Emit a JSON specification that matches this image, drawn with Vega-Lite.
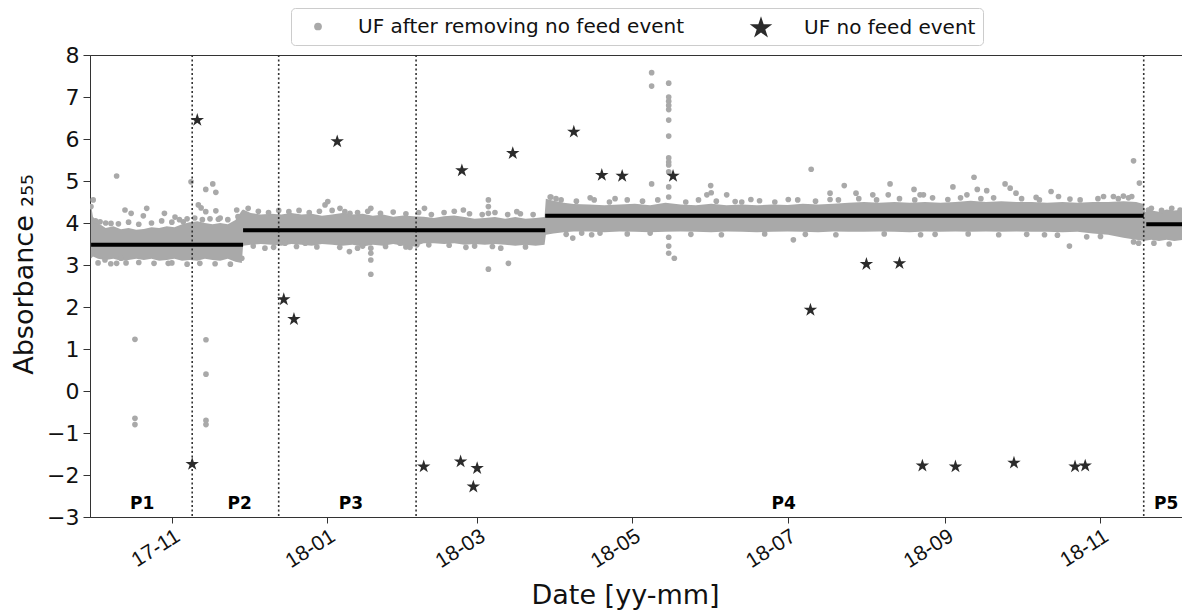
{
  "$schema": "https://vega.github.io/schema/vega-lite/v6.json",
  "width": 1092,
  "height": 462,
  "autosize": "none",
  "padding": {"left": 90, "top": 55, "right": 0, "bottom": 98},
  "background": "white",
  "config": {
    "font": "DejaVu Sans",
    "view": {"stroke": "#333333", "strokeWidth": 1},
    "axis": {"domainColor": "#333333", "tickColor": "#333333", "labelColor": "#111111", "titleColor": "#111111", "labelFontSize": 22, "titleFontSize": 27, "titleFontWeight": "normal", "grid": false, "tickSize": 6},
    "legend": {"orient": "none", "legendX": 201, "legendY": -47, "direction": "horizontal", "strokeColor": "#cccccc", "fillColor": "white", "cornerRadius": 4, "padding": 7, "labelFontSize": 20, "labelColor": "#111111", "labelLimit": 0, "columnPadding": 53, "labelOffset": 30, "symbolOffset": 10, "title": null}
  },
  "datasets": {
    "band": [
      {"d": "2017-09-30T04:00", "v": 3.15, "v2": 4.45},
      {"d": "2017-10-01T00:00", "v": 3.2, "v2": 4.15},
      {"d": "2017-10-03T00:00", "v": 3.15, "v2": 4.0},
      {"d": "2017-10-06T00:00", "v": 3.12, "v2": 3.88},
      {"d": "2017-10-09T00:00", "v": 3.15, "v2": 3.92},
      {"d": "2017-10-12T00:00", "v": 3.1, "v2": 3.85},
      {"d": "2017-10-15T00:00", "v": 3.12, "v2": 3.88},
      {"d": "2017-10-18T00:00", "v": 3.15, "v2": 3.84},
      {"d": "2017-10-21T00:00", "v": 3.12, "v2": 3.86},
      {"d": "2017-10-24T00:00", "v": 3.15, "v2": 3.9},
      {"d": "2017-10-27T00:00", "v": 3.1, "v2": 3.88},
      {"d": "2017-10-30T00:00", "v": 3.12, "v2": 3.92},
      {"d": "2017-11-02T00:00", "v": 3.15, "v2": 3.9},
      {"d": "2017-11-05T00:00", "v": 3.1, "v2": 3.97},
      {"d": "2017-11-08T00:00", "v": 3.12, "v2": 4.02},
      {"d": "2017-11-11T00:00", "v": 3.1, "v2": 4.04},
      {"d": "2017-11-14T00:00", "v": 3.15, "v2": 4.0},
      {"d": "2017-11-17T00:00", "v": 3.12, "v2": 3.97},
      {"d": "2017-11-20T00:00", "v": 3.1, "v2": 4.0},
      {"d": "2017-11-23T00:00", "v": 3.15, "v2": 3.97},
      {"d": "2017-11-26T00:00", "v": 3.08, "v2": 4.07},
      {"d": "2017-11-28T12:00", "v": 3.05, "v2": 4.3},
      {"d": "2017-11-29T00:00", "v": 3.46, "v2": 4.32},
      {"d": "2017-12-02T00:00", "v": 3.48, "v2": 4.24},
      {"d": "2017-12-06T00:00", "v": 3.5, "v2": 4.2},
      {"d": "2017-12-10T00:00", "v": 3.48, "v2": 4.22},
      {"d": "2017-12-14T00:00", "v": 3.46, "v2": 4.2},
      {"d": "2017-12-18T00:00", "v": 3.5, "v2": 4.24},
      {"d": "2017-12-22T00:00", "v": 3.48, "v2": 4.2},
      {"d": "2017-12-26T00:00", "v": 3.46, "v2": 4.22},
      {"d": "2017-12-30T00:00", "v": 3.5, "v2": 4.17},
      {"d": "2018-01-03T00:00", "v": 3.48, "v2": 4.2},
      {"d": "2018-01-07T00:00", "v": 3.46, "v2": 4.24},
      {"d": "2018-01-11T00:00", "v": 3.48, "v2": 4.2},
      {"d": "2018-01-15T00:00", "v": 3.44, "v2": 4.22},
      {"d": "2018-01-19T00:00", "v": 3.48, "v2": 4.17},
      {"d": "2018-01-23T00:00", "v": 3.46, "v2": 4.2},
      {"d": "2018-01-27T00:00", "v": 3.5, "v2": 4.15},
      {"d": "2018-01-31T00:00", "v": 3.46, "v2": 4.18},
      {"d": "2018-02-04T00:00", "v": 3.44, "v2": 4.16},
      {"d": "2018-02-08T00:00", "v": 3.52, "v2": 4.15},
      {"d": "2018-02-12T00:00", "v": 3.52, "v2": 4.12},
      {"d": "2018-02-16T00:00", "v": 3.5, "v2": 4.16},
      {"d": "2018-02-20T00:00", "v": 3.52, "v2": 4.18},
      {"d": "2018-02-24T00:00", "v": 3.48, "v2": 4.14},
      {"d": "2018-02-28T00:00", "v": 3.5, "v2": 4.1},
      {"d": "2018-03-04T00:00", "v": 3.48, "v2": 4.12},
      {"d": "2018-03-08T00:00", "v": 3.5, "v2": 4.14},
      {"d": "2018-03-12T00:00", "v": 3.48, "v2": 4.1},
      {"d": "2018-03-16T00:00", "v": 3.46, "v2": 4.14},
      {"d": "2018-03-20T00:00", "v": 3.48, "v2": 4.1},
      {"d": "2018-03-24T00:00", "v": 3.46, "v2": 4.12},
      {"d": "2018-03-27T12:00", "v": 3.48, "v2": 4.14},
      {"d": "2018-03-28T00:00", "v": 3.72, "v2": 4.58},
      {"d": "2018-03-31T00:00", "v": 3.75, "v2": 4.53},
      {"d": "2018-04-04T00:00", "v": 3.78, "v2": 4.48},
      {"d": "2018-04-08T00:00", "v": 3.8, "v2": 4.45},
      {"d": "2018-04-14T00:00", "v": 3.8, "v2": 4.44},
      {"d": "2018-04-20T00:00", "v": 3.78, "v2": 4.42},
      {"d": "2018-04-26T00:00", "v": 3.8, "v2": 4.44},
      {"d": "2018-05-02T00:00", "v": 3.79, "v2": 4.46},
      {"d": "2018-05-08T00:00", "v": 3.78, "v2": 4.42},
      {"d": "2018-05-14T00:00", "v": 3.79, "v2": 4.48},
      {"d": "2018-05-20T00:00", "v": 3.8, "v2": 4.44},
      {"d": "2018-05-26T00:00", "v": 3.79, "v2": 4.42},
      {"d": "2018-06-01T00:00", "v": 3.78, "v2": 4.46},
      {"d": "2018-06-07T00:00", "v": 3.8, "v2": 4.42},
      {"d": "2018-06-13T00:00", "v": 3.79, "v2": 4.44},
      {"d": "2018-06-19T00:00", "v": 3.78, "v2": 4.42},
      {"d": "2018-06-25T00:00", "v": 3.79, "v2": 4.44},
      {"d": "2018-07-01T00:00", "v": 3.8, "v2": 4.43},
      {"d": "2018-07-07T00:00", "v": 3.79, "v2": 4.46},
      {"d": "2018-07-13T00:00", "v": 3.78, "v2": 4.44},
      {"d": "2018-07-19T00:00", "v": 3.8, "v2": 4.46},
      {"d": "2018-07-25T00:00", "v": 3.79, "v2": 4.48},
      {"d": "2018-07-31T00:00", "v": 3.79, "v2": 4.5},
      {"d": "2018-08-06T00:00", "v": 3.8, "v2": 4.48},
      {"d": "2018-08-12T00:00", "v": 3.79, "v2": 4.5},
      {"d": "2018-08-18T00:00", "v": 3.78, "v2": 4.48},
      {"d": "2018-08-24T00:00", "v": 3.8, "v2": 4.5},
      {"d": "2018-08-30T00:00", "v": 3.79, "v2": 4.48},
      {"d": "2018-09-05T00:00", "v": 3.8, "v2": 4.5},
      {"d": "2018-09-11T00:00", "v": 3.79, "v2": 4.53},
      {"d": "2018-09-17T00:00", "v": 3.8, "v2": 4.5},
      {"d": "2018-09-23T00:00", "v": 3.79, "v2": 4.52},
      {"d": "2018-09-29T00:00", "v": 3.8, "v2": 4.5},
      {"d": "2018-10-05T00:00", "v": 3.79, "v2": 4.5},
      {"d": "2018-10-11T00:00", "v": 3.79, "v2": 4.48},
      {"d": "2018-10-17T00:00", "v": 3.78, "v2": 4.5},
      {"d": "2018-10-23T00:00", "v": 3.79, "v2": 4.48},
      {"d": "2018-10-29T00:00", "v": 3.75, "v2": 4.5},
      {"d": "2018-11-04T00:00", "v": 3.72, "v2": 4.5},
      {"d": "2018-11-10T00:00", "v": 3.65, "v2": 4.52},
      {"d": "2018-11-15T00:00", "v": 3.6, "v2": 4.5},
      {"d": "2018-11-18T00:00", "v": 3.58, "v2": 4.45},
      {"d": "2018-11-18T12:00", "v": 3.58, "v2": 4.27},
      {"d": "2018-11-21T00:00", "v": 3.6, "v2": 4.3},
      {"d": "2018-11-24T00:00", "v": 3.57, "v2": 4.27},
      {"d": "2018-11-27T00:00", "v": 3.6, "v2": 4.32},
      {"d": "2018-11-30T00:00", "v": 3.57, "v2": 4.3},
      {"d": "2018-12-04T00:00", "v": 3.6, "v2": 4.32}
    ],
    "pts": [
      {"d": "2017-09-30T05:00", "v": 4.39, "s": "UF after removing no feed event"},
      {"d": "2017-10-01T02:00", "v": 4.55, "s": "UF after removing no feed event"},
      {"d": "2017-10-02T00:00", "v": 4.05, "s": "UF after removing no feed event"},
      {"d": "2017-10-03T00:00", "v": 3.05, "s": "UF after removing no feed event"},
      {"d": "2017-10-03T19:00", "v": 4.03, "s": "UF after removing no feed event"},
      {"d": "2017-10-05T17:00", "v": 3.12, "s": "UF after removing no feed event"},
      {"d": "2017-10-06T00:00", "v": 4.0, "s": "UF after removing no feed event"},
      {"d": "2017-10-08T00:00", "v": 3.03, "s": "UF after removing no feed event"},
      {"d": "2017-10-08T02:00", "v": 3.99, "s": "UF after removing no feed event"},
      {"d": "2017-10-10T07:00", "v": 5.12, "s": "UF after removing no feed event"},
      {"d": "2017-10-10T07:00", "v": 3.04, "s": "UF after removing no feed event"},
      {"d": "2017-10-11T00:00", "v": 3.98, "s": "UF after removing no feed event"},
      {"d": "2017-10-12T00:00", "v": 3.16, "s": "UF after removing no feed event"},
      {"d": "2017-10-13T14:00", "v": 4.31, "s": "UF after removing no feed event"},
      {"d": "2017-10-14T00:00", "v": 3.05, "s": "UF after removing no feed event"},
      {"d": "2017-10-15T00:00", "v": 4.02, "s": "UF after removing no feed event"},
      {"d": "2017-10-16T00:00", "v": 4.23, "s": "UF after removing no feed event"},
      {"d": "2017-10-17T12:00", "v": 1.23, "s": "UF after removing no feed event"},
      {"d": "2017-10-17T12:00", "v": -0.65, "s": "UF after removing no feed event"},
      {"d": "2017-10-17T12:00", "v": -0.8, "s": "UF after removing no feed event"},
      {"d": "2017-10-19T00:00", "v": 3.97, "s": "UF after removing no feed event"},
      {"d": "2017-10-19T00:00", "v": 3.06, "s": "UF after removing no feed event"},
      {"d": "2017-10-20T19:00", "v": 4.17, "s": "UF after removing no feed event"},
      {"d": "2017-10-22T03:00", "v": 4.35, "s": "UF after removing no feed event"},
      {"d": "2017-10-24T00:00", "v": 4.0, "s": "UF after removing no feed event"},
      {"d": "2017-10-25T00:00", "v": 3.04, "s": "UF after removing no feed event"},
      {"d": "2017-10-28T00:00", "v": 4.05, "s": "UF after removing no feed event"},
      {"d": "2017-10-29T02:00", "v": 4.23, "s": "UF after removing no feed event"},
      {"d": "2017-10-30T14:00", "v": 3.04, "s": "UF after removing no feed event"},
      {"d": "2017-11-01T00:00", "v": 4.02, "s": "UF after removing no feed event"},
      {"d": "2017-11-01T00:00", "v": 3.05, "s": "UF after removing no feed event"},
      {"d": "2017-11-02T06:00", "v": 4.14, "s": "UF after removing no feed event"},
      {"d": "2017-11-04T00:00", "v": 4.08, "s": "UF after removing no feed event"},
      {"d": "2017-11-05T12:00", "v": 4.03, "s": "UF after removing no feed event"},
      {"d": "2017-11-07T00:00", "v": 4.1, "s": "UF after removing no feed event"},
      {"d": "2017-11-07T00:00", "v": 3.02, "s": "UF after removing no feed event"},
      {"d": "2017-11-08T13:00", "v": 4.98, "s": "UF after removing no feed event"},
      {"d": "2017-11-10T00:00", "v": 4.12, "s": "UF after removing no feed event"},
      {"d": "2017-11-11T10:00", "v": 4.43, "s": "UF after removing no feed event"},
      {"d": "2017-11-12T12:00", "v": 4.36, "s": "UF after removing no feed event"},
      {"d": "2017-11-12T00:00", "v": 3.04, "s": "UF after removing no feed event"},
      {"d": "2017-11-13T00:00", "v": 4.08, "s": "UF after removing no feed event"},
      {"d": "2017-11-14T08:00", "v": 4.8, "s": "UF after removing no feed event"},
      {"d": "2017-11-14T08:00", "v": 4.27, "s": "UF after removing no feed event"},
      {"d": "2017-11-14T10:00", "v": 1.22, "s": "UF after removing no feed event"},
      {"d": "2017-11-14T10:00", "v": 0.4, "s": "UF after removing no feed event"},
      {"d": "2017-11-14T10:00", "v": -0.7, "s": "UF after removing no feed event"},
      {"d": "2017-11-14T10:00", "v": -0.8, "s": "UF after removing no feed event"},
      {"d": "2017-11-16T00:00", "v": 4.1, "s": "UF after removing no feed event"},
      {"d": "2017-11-17T02:00", "v": 4.93, "s": "UF after removing no feed event"},
      {"d": "2017-11-18T07:00", "v": 4.73, "s": "UF after removing no feed event"},
      {"d": "2017-11-18T07:00", "v": 4.29, "s": "UF after removing no feed event"},
      {"d": "2017-11-18T00:00", "v": 3.03, "s": "UF after removing no feed event"},
      {"d": "2017-11-19T07:00", "v": 4.09, "s": "UF after removing no feed event"},
      {"d": "2017-11-20T00:00", "v": 4.12, "s": "UF after removing no feed event"},
      {"d": "2017-11-23T00:00", "v": 4.08, "s": "UF after removing no feed event"},
      {"d": "2017-11-24T00:00", "v": 3.02, "s": "UF after removing no feed event"},
      {"d": "2017-11-26T12:00", "v": 4.31, "s": "UF after removing no feed event"},
      {"d": "2017-11-27T00:00", "v": 4.15, "s": "UF after removing no feed event"},
      {"d": "2017-11-28T12:00", "v": 3.16, "s": "UF after removing no feed event"},
      {"d": "2017-12-01T00:00", "v": 4.35, "s": "UF after removing no feed event"},
      {"d": "2017-12-03T00:00", "v": 3.45, "s": "UF after removing no feed event"},
      {"d": "2017-12-05T00:00", "v": 4.28, "s": "UF after removing no feed event"},
      {"d": "2017-12-07T14:00", "v": 3.4, "s": "UF after removing no feed event"},
      {"d": "2017-12-09T00:00", "v": 4.25, "s": "UF after removing no feed event"},
      {"d": "2017-12-11T00:00", "v": 3.42, "s": "UF after removing no feed event"},
      {"d": "2017-12-13T00:00", "v": 4.3, "s": "UF after removing no feed event"},
      {"d": "2017-12-15T12:00", "v": 3.52, "s": "UF after removing no feed event"},
      {"d": "2017-12-17T00:00", "v": 4.27, "s": "UF after removing no feed event"},
      {"d": "2017-12-20T00:00", "v": 3.44, "s": "UF after removing no feed event"},
      {"d": "2017-12-21T00:00", "v": 4.3, "s": "UF after removing no feed event"},
      {"d": "2017-12-23T10:00", "v": 3.52, "s": "UF after removing no feed event"},
      {"d": "2017-12-25T00:00", "v": 4.25, "s": "UF after removing no feed event"},
      {"d": "2017-12-28T00:00", "v": 3.43, "s": "UF after removing no feed event"},
      {"d": "2017-12-29T00:00", "v": 4.28, "s": "UF after removing no feed event"},
      {"d": "2017-12-31T05:00", "v": 4.43, "s": "UF after removing no feed event"},
      {"d": "2018-01-01T07:00", "v": 4.51, "s": "UF after removing no feed event"},
      {"d": "2018-01-03T00:00", "v": 4.3, "s": "UF after removing no feed event"},
      {"d": "2018-01-06T02:00", "v": 4.35, "s": "UF after removing no feed event"},
      {"d": "2018-01-06T00:00", "v": 3.42, "s": "UF after removing no feed event"},
      {"d": "2018-01-08T00:00", "v": 4.27, "s": "UF after removing no feed event"},
      {"d": "2018-01-09T19:00", "v": 3.32, "s": "UF after removing no feed event"},
      {"d": "2018-01-10T00:00", "v": 4.23, "s": "UF after removing no feed event"},
      {"d": "2018-01-13T00:00", "v": 4.25, "s": "UF after removing no feed event"},
      {"d": "2018-01-13T00:00", "v": 3.4, "s": "UF after removing no feed event"},
      {"d": "2018-01-15T00:00", "v": 3.45, "s": "UF after removing no feed event"},
      {"d": "2018-01-17T00:00", "v": 4.28, "s": "UF after removing no feed event"},
      {"d": "2018-01-18T05:00", "v": 4.35, "s": "UF after removing no feed event"},
      {"d": "2018-01-18T05:00", "v": 3.4, "s": "UF after removing no feed event"},
      {"d": "2018-01-18T05:00", "v": 3.28, "s": "UF after removing no feed event"},
      {"d": "2018-01-18T05:00", "v": 3.12, "s": "UF after removing no feed event"},
      {"d": "2018-01-18T05:00", "v": 2.78, "s": "UF after removing no feed event"},
      {"d": "2018-01-22T00:00", "v": 4.23, "s": "UF after removing no feed event"},
      {"d": "2018-01-24T00:00", "v": 3.44, "s": "UF after removing no feed event"},
      {"d": "2018-01-27T00:00", "v": 4.26, "s": "UF after removing no feed event"},
      {"d": "2018-01-29T17:00", "v": 3.52, "s": "UF after removing no feed event"},
      {"d": "2018-02-01T00:00", "v": 4.22, "s": "UF after removing no feed event"},
      {"d": "2018-02-01T00:00", "v": 3.43, "s": "UF after removing no feed event"},
      {"d": "2018-02-02T14:00", "v": 3.42, "s": "UF after removing no feed event"},
      {"d": "2018-02-05T07:00", "v": 3.48, "s": "UF after removing no feed event"},
      {"d": "2018-02-06T00:00", "v": 4.25, "s": "UF after removing no feed event"},
      {"d": "2018-02-08T07:00", "v": 4.35, "s": "UF after removing no feed event"},
      {"d": "2018-02-10T00:00", "v": 3.48, "s": "UF after removing no feed event"},
      {"d": "2018-02-11T00:00", "v": 4.2, "s": "UF after removing no feed event"},
      {"d": "2018-02-16T00:00", "v": 4.25, "s": "UF after removing no feed event"},
      {"d": "2018-02-18T00:00", "v": 3.47, "s": "UF after removing no feed event"},
      {"d": "2018-02-20T00:00", "v": 4.28, "s": "UF after removing no feed event"},
      {"d": "2018-02-23T14:00", "v": 4.31, "s": "UF after removing no feed event"},
      {"d": "2018-02-24T14:00", "v": 3.42, "s": "UF after removing no feed event"},
      {"d": "2018-02-26T00:00", "v": 4.22, "s": "UF after removing no feed event"},
      {"d": "2018-02-28T00:00", "v": 3.45, "s": "UF after removing no feed event"},
      {"d": "2018-03-03T00:00", "v": 4.2, "s": "UF after removing no feed event"},
      {"d": "2018-03-05T10:00", "v": 4.55, "s": "UF after removing no feed event"},
      {"d": "2018-03-05T10:00", "v": 4.39, "s": "UF after removing no feed event"},
      {"d": "2018-03-05T10:00", "v": 4.23, "s": "UF after removing no feed event"},
      {"d": "2018-03-05T10:00", "v": 2.9, "s": "UF after removing no feed event"},
      {"d": "2018-03-07T00:00", "v": 3.44, "s": "UF after removing no feed event"},
      {"d": "2018-03-08T00:00", "v": 4.25, "s": "UF after removing no feed event"},
      {"d": "2018-03-10T07:00", "v": 3.4, "s": "UF after removing no feed event"},
      {"d": "2018-03-13T07:00", "v": 3.04, "s": "UF after removing no feed event"},
      {"d": "2018-03-13T00:00", "v": 4.2, "s": "UF after removing no feed event"},
      {"d": "2018-03-16T14:00", "v": 4.27, "s": "UF after removing no feed event"},
      {"d": "2018-03-18T00:00", "v": 4.22, "s": "UF after removing no feed event"},
      {"d": "2018-03-20T00:00", "v": 3.43, "s": "UF after removing no feed event"},
      {"d": "2018-03-23T00:00", "v": 4.2, "s": "UF after removing no feed event"},
      {"d": "2018-03-29T17:00", "v": 4.62, "s": "UF after removing no feed event"},
      {"d": "2018-03-30T00:00", "v": 4.62, "s": "UF after removing no feed event"},
      {"d": "2018-04-01T00:00", "v": 4.58, "s": "UF after removing no feed event"},
      {"d": "2018-04-03T00:00", "v": 4.55, "s": "UF after removing no feed event"},
      {"d": "2018-04-05T00:00", "v": 3.73, "s": "UF after removing no feed event"},
      {"d": "2018-04-07T14:00", "v": 3.64, "s": "UF after removing no feed event"},
      {"d": "2018-04-09T00:00", "v": 4.52, "s": "UF after removing no feed event"},
      {"d": "2018-04-11T02:00", "v": 3.76, "s": "UF after removing no feed event"},
      {"d": "2018-04-14T10:00", "v": 4.6, "s": "UF after removing no feed event"},
      {"d": "2018-04-15T00:00", "v": 3.72, "s": "UF after removing no feed event"},
      {"d": "2018-04-16T00:00", "v": 4.55, "s": "UF after removing no feed event"},
      {"d": "2018-04-18T07:00", "v": 3.76, "s": "UF after removing no feed event"},
      {"d": "2018-04-22T00:00", "v": 4.5, "s": "UF after removing no feed event"},
      {"d": "2018-04-24T05:00", "v": 4.58, "s": "UF after removing no feed event"},
      {"d": "2018-04-29T00:00", "v": 4.55, "s": "UF after removing no feed event"},
      {"d": "2018-04-29T00:00", "v": 3.74, "s": "UF after removing no feed event"},
      {"d": "2018-05-05T00:00", "v": 4.52, "s": "UF after removing no feed event"},
      {"d": "2018-05-08T00:00", "v": 3.76, "s": "UF after removing no feed event"},
      {"d": "2018-05-08T14:00", "v": 7.58, "s": "UF after removing no feed event"},
      {"d": "2018-05-08T14:00", "v": 7.26, "s": "UF after removing no feed event"},
      {"d": "2018-05-08T14:00", "v": 4.93, "s": "UF after removing no feed event"},
      {"d": "2018-05-11T00:00", "v": 4.55, "s": "UF after removing no feed event"},
      {"d": "2018-05-15T07:00", "v": 7.33, "s": "UF after removing no feed event"},
      {"d": "2018-05-15T07:00", "v": 7.0, "s": "UF after removing no feed event"},
      {"d": "2018-05-15T07:00", "v": 6.9, "s": "UF after removing no feed event"},
      {"d": "2018-05-15T07:00", "v": 6.8, "s": "UF after removing no feed event"},
      {"d": "2018-05-15T07:00", "v": 6.7, "s": "UF after removing no feed event"},
      {"d": "2018-05-15T07:00", "v": 6.45, "s": "UF after removing no feed event"},
      {"d": "2018-05-15T07:00", "v": 6.07, "s": "UF after removing no feed event"},
      {"d": "2018-05-15T07:00", "v": 5.55, "s": "UF after removing no feed event"},
      {"d": "2018-05-15T07:00", "v": 5.45, "s": "UF after removing no feed event"},
      {"d": "2018-05-15T07:00", "v": 5.38, "s": "UF after removing no feed event"},
      {"d": "2018-05-15T07:00", "v": 5.22, "s": "UF after removing no feed event"},
      {"d": "2018-05-15T07:00", "v": 4.86, "s": "UF after removing no feed event"},
      {"d": "2018-05-15T07:00", "v": 4.62, "s": "UF after removing no feed event"},
      {"d": "2018-05-15T07:00", "v": 3.66, "s": "UF after removing no feed event"},
      {"d": "2018-05-15T07:00", "v": 3.45, "s": "UF after removing no feed event"},
      {"d": "2018-05-15T07:00", "v": 3.28, "s": "UF after removing no feed event"},
      {"d": "2018-05-17T12:00", "v": 3.16, "s": "UF after removing no feed event"},
      {"d": "2018-05-22T00:00", "v": 4.5, "s": "UF after removing no feed event"},
      {"d": "2018-05-24T00:00", "v": 3.73, "s": "UF after removing no feed event"},
      {"d": "2018-05-27T00:00", "v": 4.55, "s": "UF after removing no feed event"},
      {"d": "2018-05-30T07:00", "v": 4.67, "s": "UF after removing no feed event"},
      {"d": "2018-05-31T19:00", "v": 4.89, "s": "UF after removing no feed event"},
      {"d": "2018-06-01T00:00", "v": 4.72, "s": "UF after removing no feed event"},
      {"d": "2018-06-03T00:00", "v": 4.52, "s": "UF after removing no feed event"},
      {"d": "2018-06-05T00:00", "v": 3.72, "s": "UF after removing no feed event"},
      {"d": "2018-06-07T02:00", "v": 4.67, "s": "UF after removing no feed event"},
      {"d": "2018-06-10T10:00", "v": 4.51, "s": "UF after removing no feed event"},
      {"d": "2018-06-13T00:00", "v": 4.5, "s": "UF after removing no feed event"},
      {"d": "2018-06-16T14:00", "v": 4.56, "s": "UF after removing no feed event"},
      {"d": "2018-06-20T00:00", "v": 4.53, "s": "UF after removing no feed event"},
      {"d": "2018-06-22T00:00", "v": 3.74, "s": "UF after removing no feed event"},
      {"d": "2018-06-26T00:00", "v": 4.5, "s": "UF after removing no feed event"},
      {"d": "2018-07-01T07:00", "v": 4.56, "s": "UF after removing no feed event"},
      {"d": "2018-07-03T07:00", "v": 3.6, "s": "UF after removing no feed event"},
      {"d": "2018-07-05T00:00", "v": 4.55, "s": "UF after removing no feed event"},
      {"d": "2018-07-08T00:00", "v": 3.73, "s": "UF after removing no feed event"},
      {"d": "2018-07-10T07:00", "v": 5.28, "s": "UF after removing no feed event"},
      {"d": "2018-07-12T00:00", "v": 4.52, "s": "UF after removing no feed event"},
      {"d": "2018-07-17T17:00", "v": 4.71, "s": "UF after removing no feed event"},
      {"d": "2018-07-17T17:00", "v": 4.56, "s": "UF after removing no feed event"},
      {"d": "2018-07-20T00:00", "v": 3.72, "s": "UF after removing no feed event"},
      {"d": "2018-07-21T00:00", "v": 4.55, "s": "UF after removing no feed event"},
      {"d": "2018-07-23T07:00", "v": 4.89, "s": "UF after removing no feed event"},
      {"d": "2018-07-27T22:00", "v": 4.71, "s": "UF after removing no feed event"},
      {"d": "2018-07-29T00:00", "v": 4.58, "s": "UF after removing no feed event"},
      {"d": "2018-08-03T12:00", "v": 4.67, "s": "UF after removing no feed event"},
      {"d": "2018-08-05T00:00", "v": 4.55, "s": "UF after removing no feed event"},
      {"d": "2018-08-08T00:00", "v": 3.74, "s": "UF after removing no feed event"},
      {"d": "2018-08-09T14:00", "v": 4.67, "s": "UF after removing no feed event"},
      {"d": "2018-08-10T07:00", "v": 4.93, "s": "UF after removing no feed event"},
      {"d": "2018-08-14T00:00", "v": 4.58, "s": "UF after removing no feed event"},
      {"d": "2018-08-19T17:00", "v": 4.8, "s": "UF after removing no feed event"},
      {"d": "2018-08-20T00:00", "v": 4.55, "s": "UF after removing no feed event"},
      {"d": "2018-08-22T02:00", "v": 4.67, "s": "UF after removing no feed event"},
      {"d": "2018-08-22T07:00", "v": 3.72, "s": "UF after removing no feed event"},
      {"d": "2018-08-23T10:00", "v": 4.67, "s": "UF after removing no feed event"},
      {"d": "2018-08-27T00:00", "v": 4.6, "s": "UF after removing no feed event"},
      {"d": "2018-08-28T00:00", "v": 3.73, "s": "UF after removing no feed event"},
      {"d": "2018-09-02T00:00", "v": 4.56, "s": "UF after removing no feed event"},
      {"d": "2018-09-04T00:00", "v": 4.86, "s": "UF after removing no feed event"},
      {"d": "2018-09-07T00:00", "v": 4.6, "s": "UF after removing no feed event"},
      {"d": "2018-09-09T12:00", "v": 4.67, "s": "UF after removing no feed event"},
      {"d": "2018-09-10T00:00", "v": 3.74, "s": "UF after removing no feed event"},
      {"d": "2018-09-12T07:00", "v": 5.09, "s": "UF after removing no feed event"},
      {"d": "2018-09-13T14:00", "v": 4.8, "s": "UF after removing no feed event"},
      {"d": "2018-09-15T00:00", "v": 4.58, "s": "UF after removing no feed event"},
      {"d": "2018-09-17T07:00", "v": 4.77, "s": "UF after removing no feed event"},
      {"d": "2018-09-20T00:00", "v": 4.6, "s": "UF after removing no feed event"},
      {"d": "2018-09-22T00:00", "v": 3.72, "s": "UF after removing no feed event"},
      {"d": "2018-09-24T12:00", "v": 4.93, "s": "UF after removing no feed event"},
      {"d": "2018-09-26T12:00", "v": 4.83, "s": "UF after removing no feed event"},
      {"d": "2018-09-28T19:00", "v": 4.71, "s": "UF after removing no feed event"},
      {"d": "2018-10-01T00:00", "v": 4.58, "s": "UF after removing no feed event"},
      {"d": "2018-10-03T00:00", "v": 3.73, "s": "UF after removing no feed event"},
      {"d": "2018-10-06T17:00", "v": 4.61, "s": "UF after removing no feed event"},
      {"d": "2018-10-08T00:00", "v": 4.55, "s": "UF after removing no feed event"},
      {"d": "2018-10-10T00:00", "v": 3.72, "s": "UF after removing no feed event"},
      {"d": "2018-10-12T14:00", "v": 4.75, "s": "UF after removing no feed event"},
      {"d": "2018-10-15T02:00", "v": 3.71, "s": "UF after removing no feed event"},
      {"d": "2018-10-15T12:00", "v": 4.63, "s": "UF after removing no feed event"},
      {"d": "2018-10-19T19:00", "v": 3.45, "s": "UF after removing no feed event"},
      {"d": "2018-10-20T00:00", "v": 4.57, "s": "UF after removing no feed event"},
      {"d": "2018-10-24T00:00", "v": 4.55, "s": "UF after removing no feed event"},
      {"d": "2018-10-26T14:00", "v": 3.67, "s": "UF after removing no feed event"},
      {"d": "2018-10-31T00:00", "v": 4.58, "s": "UF after removing no feed event"},
      {"d": "2018-11-01T00:00", "v": 3.68, "s": "UF after removing no feed event"},
      {"d": "2018-11-02T05:00", "v": 4.63, "s": "UF after removing no feed event"},
      {"d": "2018-11-06T02:00", "v": 4.63, "s": "UF after removing no feed event"},
      {"d": "2018-11-08T00:00", "v": 4.58, "s": "UF after removing no feed event"},
      {"d": "2018-11-10T00:00", "v": 4.64, "s": "UF after removing no feed event"},
      {"d": "2018-11-12T00:00", "v": 4.6, "s": "UF after removing no feed event"},
      {"d": "2018-11-13T07:00", "v": 4.63, "s": "UF after removing no feed event"},
      {"d": "2018-11-14T00:00", "v": 5.48, "s": "UF after removing no feed event"},
      {"d": "2018-11-14T00:00", "v": 3.55, "s": "UF after removing no feed event"},
      {"d": "2018-11-16T07:00", "v": 4.95, "s": "UF after removing no feed event"},
      {"d": "2018-11-16T00:00", "v": 3.52, "s": "UF after removing no feed event"},
      {"d": "2018-11-19T19:00", "v": 4.31, "s": "UF after removing no feed event"},
      {"d": "2018-11-21T00:00", "v": 4.35, "s": "UF after removing no feed event"},
      {"d": "2018-11-22T00:00", "v": 3.52, "s": "UF after removing no feed event"},
      {"d": "2018-11-25T00:00", "v": 4.3, "s": "UF after removing no feed event"},
      {"d": "2018-11-28T00:00", "v": 3.5, "s": "UF after removing no feed event"},
      {"d": "2018-11-29T00:00", "v": 4.35, "s": "UF after removing no feed event"},
      {"d": "2018-12-02T07:00", "v": 4.31, "s": "UF after removing no feed event"}
    ],
    "stars": [
      {"d": "2017-11-11T00:00", "v": 6.45, "s": "UF no feed event"},
      {"d": "2017-11-09T00:00", "v": -1.74, "s": "UF no feed event"},
      {"d": "2017-12-15T00:00", "v": 2.18, "s": "UF no feed event"},
      {"d": "2017-12-19T00:00", "v": 1.71, "s": "UF no feed event"},
      {"d": "2018-01-05T00:00", "v": 5.94, "s": "UF no feed event"},
      {"d": "2018-02-08T00:00", "v": -1.8, "s": "UF no feed event"},
      {"d": "2018-02-23T00:00", "v": 5.25, "s": "UF no feed event"},
      {"d": "2018-02-22T12:00", "v": -1.68, "s": "UF no feed event"},
      {"d": "2018-03-01T00:00", "v": -1.84, "s": "UF no feed event"},
      {"d": "2018-02-27T12:00", "v": -2.28, "s": "UF no feed event"},
      {"d": "2018-03-15T00:00", "v": 5.66, "s": "UF no feed event"},
      {"d": "2018-04-08T00:00", "v": 6.17, "s": "UF no feed event"},
      {"d": "2018-04-19T00:00", "v": 5.14, "s": "UF no feed event"},
      {"d": "2018-04-27T00:00", "v": 5.12, "s": "UF no feed event"},
      {"d": "2018-05-17T00:00", "v": 5.12, "s": "UF no feed event"},
      {"d": "2018-07-10T00:00", "v": 1.93, "s": "UF no feed event"},
      {"d": "2018-08-01T00:00", "v": 3.02, "s": "UF no feed event"},
      {"d": "2018-08-14T00:00", "v": 3.04, "s": "UF no feed event"},
      {"d": "2018-08-23T00:00", "v": -1.78, "s": "UF no feed event"},
      {"d": "2018-09-05T00:00", "v": -1.8, "s": "UF no feed event"},
      {"d": "2018-09-28T00:00", "v": -1.71, "s": "UF no feed event"},
      {"d": "2018-10-22T00:00", "v": -1.8, "s": "UF no feed event"},
      {"d": "2018-10-26T00:00", "v": -1.78, "s": "UF no feed event"}
    ],
    "bounds": [
      {"d": "2017-11-09T00:00"},
      {"d": "2017-12-13T00:00"},
      {"d": "2018-02-05T00:00"},
      {"d": "2018-11-18T00:00"}
    ],
    "means": [
      {"d": "2017-09-30T06:00", "d2": "2017-11-29T00:00", "v": 3.48},
      {"d": "2017-11-29T00:00", "d2": "2018-03-27T18:00", "v": 3.83},
      {"d": "2018-03-27T18:00", "d2": "2018-11-18T00:00", "v": 4.17},
      {"d": "2018-11-19T00:00", "d2": "2018-12-06T00:00", "v": 3.97}
    ],
    "labels": [
      {"d": "2017-10-20T08:00", "v": -2.69, "t": "P1"},
      {"d": "2017-11-27T16:00", "v": -2.69, "t": "P2"},
      {"d": "2018-01-10T10:00", "v": -2.69, "t": "P3"},
      {"d": "2018-06-29T12:00", "v": -2.69, "t": "P4"},
      {"d": "2018-11-26T20:00", "v": -2.69, "t": "P5"}
    ]
  },
  "layer": [
    {
      "data": {"name": "band"},
      "mark": {"type": "area", "color": "#a9a9a9", "clip": true},
      "encoding": {
        "x": {"field": "d", "type": "temporal",
          "scale": {"domain": [{"year": 2017, "month": 9, "date": 29, "hours": 20}, {"year": 2018, "month": 12, "date": 3, "hours": 1}]},
          "axis": {"title": "Date [yy-mm]", "format": "%y-%m", "labelFont": "Liberation Sans", "labelFontSize": 21, "labelAngle": -32, "labelAlign": "right", "labelBaseline": "top", "labelPadding": 2, "titlePadding": 11, "titleX": 535,
            "values": [{"year": 2017, "month": 11, "date": 1}, {"year": 2018, "month": 1, "date": 1}, {"year": 2018, "month": 3, "date": 1}, {"year": 2018, "month": 5, "date": 1}, {"year": 2018, "month": 7, "date": 1}, {"year": 2018, "month": 9, "date": 1}, {"year": 2018, "month": 11, "date": 1}]}},
        "y": {"field": "v", "type": "quantitative",
          "scale": {"domain": [-3, 8], "nice": false, "zero": false},
          "axis": {"title": "Absorbance ₂₅₅", "format": "d", "titlePadding": 8, "labelPadding": 4, "titleY": 219,
            "values": [-3, -2.5, -2, -1.5, -1, -0.5, 0, 0.5, 1, 1.5, 2, 2.5, 3, 3.5, 4, 4.5, 5, 5.5, 6, 6.5, 7, 7.5, 8],
            "labelExpr": "datum.value % 1 === 0 ? datum.label : ''",
            "tickSize": {"condition": {"test": "datum.value % 1 === 0", "value": 7}, "value": 4}}},
        "y2": {"field": "v2"}
      }
    },
    {
      "data": {"name": "pts"},
      "mark": {"type": "point", "filled": true, "opacity": 1, "clip": true, "size": 32, "color": "#a9a9a9"},
      "encoding": {
        "x": {"field": "d", "type": "temporal"},
        "y": {"field": "v", "type": "quantitative"}
      }
    },
    {
      "data": {"name": "bounds"},
      "mark": {"type": "rule", "strokeDash": [2, 2.5], "strokeWidth": 1.6, "color": "#333333"},
      "encoding": {"x": {"field": "d", "type": "temporal"}}
    },
    {
      "data": {"name": "means"},
      "mark": {"type": "rule", "strokeWidth": 4, "color": "#000000", "clip": true},
      "encoding": {
        "x": {"field": "d", "type": "temporal"},
        "x2": {"field": "d2"},
        "y": {"field": "v", "type": "quantitative"}
      }
    },
    {
      "data": {"name": "stars"},
      "mark": {"type": "point", "filled": true, "opacity": 1, "clip": true, "size": 200, "color": "#2b2b2b", "shape": "M0,-1L0.2245,-0.309L0.9511,-0.309L0.3633,0.118L0.5878,0.809L0,0.382L-0.5878,0.809L-0.3633,0.118L-0.9511,-0.309L-0.2245,-0.309Z"},
      "encoding": {
        "x": {"field": "d", "type": "temporal"},
        "y": {"field": "v", "type": "quantitative"}
      }
    },
    {
      "data": {"values": []},
      "mark": {"type": "point", "filled": true, "opacity": 1},
      "encoding": {
        "x": {"field": "d", "type": "temporal"},
        "y": {"field": "v", "type": "quantitative"},
        "color": {"field": "s", "type": "nominal", "scale": {"domain": ["UF after removing no feed event", "UF no feed event"], "range": ["#a9a9a9", "#2b2b2b"]}},
        "shape": {"field": "s", "type": "nominal", "scale": {"domain": ["UF after removing no feed event", "UF no feed event"], "range": ["circle", "M0,-1L0.2245,-0.309L0.9511,-0.309L0.3633,0.118L0.5878,0.809L0,0.382L-0.5878,0.809L-0.3633,0.118L-0.9511,-0.309L-0.2245,-0.309Z"]}},
        "size": {"field": "s", "type": "nominal", "scale": {"domain": ["UF after removing no feed event", "UF no feed event"], "range": [60, 560]}}
      }
    },
    {
      "data": {"name": "labels"},
      "mark": {"type": "text", "fontWeight": "bold", "fontSize": 17, "color": "#000000", "baseline": "middle", "align": "center"},
      "encoding": {
        "x": {"field": "d", "type": "temporal"},
        "y": {"field": "v", "type": "quantitative"},
        "text": {"field": "t"}
      }
    }
  ]
}
